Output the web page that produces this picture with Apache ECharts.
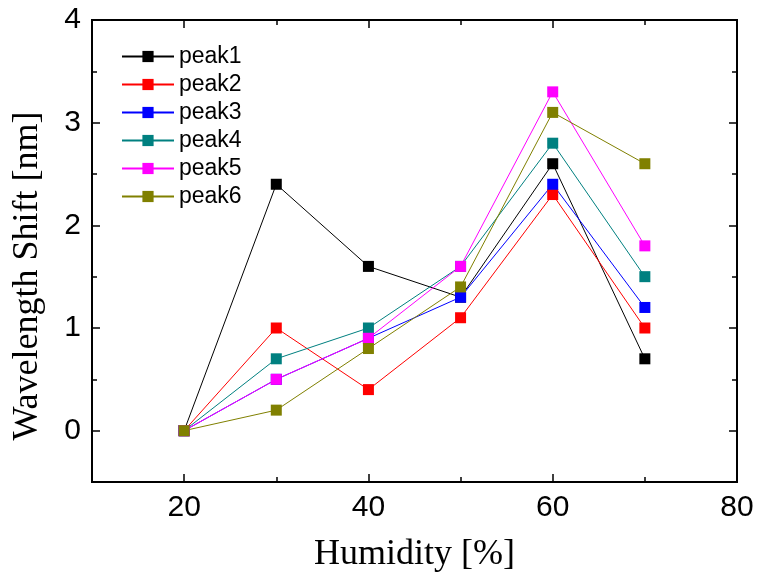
<!DOCTYPE html>
<html>
<head>
<meta charset="utf-8">
<script src="https://cdn.jsdelivr.net/npm/echarts@6/dist/echarts.min.js"></script>
<style>
  html, body { margin: 0; padding: 0; background: #fff; }
  #chart { width: 757px; height: 581px; }
</style>
</head>
<body>
<div id="chart"></div>
<script>
// Humidity steps (%)
const humidity = [20, 30, 40, 50, 60, 70];

// Wavelength shift of each resonance peak (nm)
const peak1 = [0, 2.4, 1.6, 1.3, 2.6, 0.7];
const peak2 = [0, 1.0, 0.4, 1.1, 2.3, 1.0];
const peak3 = [0, 0.5, 0.9, 1.3, 2.4, 1.2];
const peak4 = [0, 0.7, 1.0, 1.6, 2.8, 1.5];
const peak5 = [0, 0.5, 0.9, 1.6, 3.3, 1.8];
const peak6 = [0, 0.2, 0.8, 1.4, 3.1, 2.6];

const seriesNames = ['peak1', 'peak2', 'peak3', 'peak4', 'peak5', 'peak6'];
const seriesValues = [peak1, peak2, peak3, peak4, peak5, peak6];
const seriesColors = ['#000000', '#ff0000', '#0000ff', '#008080', '#ff00ff', '#808000'];

// Tick positions
const xMajorTicks = [20, 40, 60, 80];
const xMinorTicks = [30, 50, 70];
const yMajorTicks = [0, 1, 2, 3, 4];
const yMinorTicks = [-0.5, 0.5, 1.5, 2.5, 3.5];

const chart = echarts.init(document.getElementById('chart'), null, { renderer: 'canvas' });

const tickFont = { fontFamily: 'Liberation Sans, Arial, sans-serif', fontSize: 30, color: '#000' };
const titleFont = { fontFamily: 'Liberation Serif, Times New Roman, serif', fontSize: 36, color: '#000' };

function xAxisDef(position, ticks, len, showLabel, extra) {
  return Object.assign({
    type: 'value', min: 10, max: 80, interval: 10, position: position,
    axisLine: { show: true, onZero: false, lineStyle: { color: '#000', width: 2 } },
    axisTick: { show: true, inside: true, length: len, customValues: ticks, lineStyle: { color: '#000', width: 1.5 } },
    axisLabel: showLabel ? Object.assign({ show: true, margin: 11, customValues: ticks }, tickFont) : { show: false },
    splitLine: { show: false }
  }, extra || {});
}

function yAxisDef(position, ticks, len, showLabel, extra) {
  return Object.assign({
    type: 'value', min: -0.5, max: 4, interval: 0.5, position: position,
    axisLine: { show: true, onZero: false, lineStyle: { color: '#000', width: 2 } },
    axisTick: { show: true, inside: true, length: len, customValues: ticks, lineStyle: { color: '#000', width: 1.5 } },
    axisLabel: showLabel ? Object.assign({ show: true, margin: 11, customValues: ticks }, tickFont) : { show: false },
    splitLine: { show: false }
  }, extra || {});
}

const option = {
  backgroundColor: '#fff',
  animation: false,
  grid: { left: 92, right: 20, top: 20, bottom: 99, containLabel: false },
  legend: {
    orient: 'vertical',
    left: 116,
    top: 40,
    itemWidth: 52,
    itemHeight: 14,
    itemGap: 5,
    data: seriesNames,
    textStyle: { fontFamily: 'Liberation Sans, Arial, sans-serif', fontSize: 23, color: '#000' }
  },
  graphic: [{
    type: 'text',
    x: 28,
    y: 276,
    rotation: Math.PI / 2,
    style: {
      text: 'Wavelength Shift [nm]',
      font: '36px "Liberation Serif", "Times New Roman", serif',
      fill: '#000',
      textAlign: 'center',
      textVerticalAlign: 'middle'
    }
  }],
  xAxis: [
    xAxisDef('bottom', xMajorTicks, 8, true, {
      name: 'Humidity [%]', nameLocation: 'middle', nameGap: 55, nameTextStyle: titleFont
    }),
    xAxisDef('bottom', xMinorTicks, 5, false),
    xAxisDef('top', xMajorTicks, 8, false),
    xAxisDef('top', xMinorTicks, 5, false)
  ],
  yAxis: [
    yAxisDef('left', yMajorTicks, 8, true),
    yAxisDef('left', yMinorTicks, 5, false),
    yAxisDef('right', yMajorTicks, 8, false),
    yAxisDef('right', yMinorTicks, 5, false)
  ],
  series: seriesNames.map((name, i) => ({
    name: name,
    type: 'line',
    xAxisIndex: 0,
    yAxisIndex: 0,
    data: humidity.map((h, j) => [h, seriesValues[i][j]]),
    symbol: 'rect',
    symbolSize: 11,
    showSymbol: true,
    color: seriesColors[i],
    lineStyle: { color: seriesColors[i], width: 1 },
    itemStyle: { color: seriesColors[i] }
  }))
};

chart.setOption(option);
</script>
</body>
</html>
